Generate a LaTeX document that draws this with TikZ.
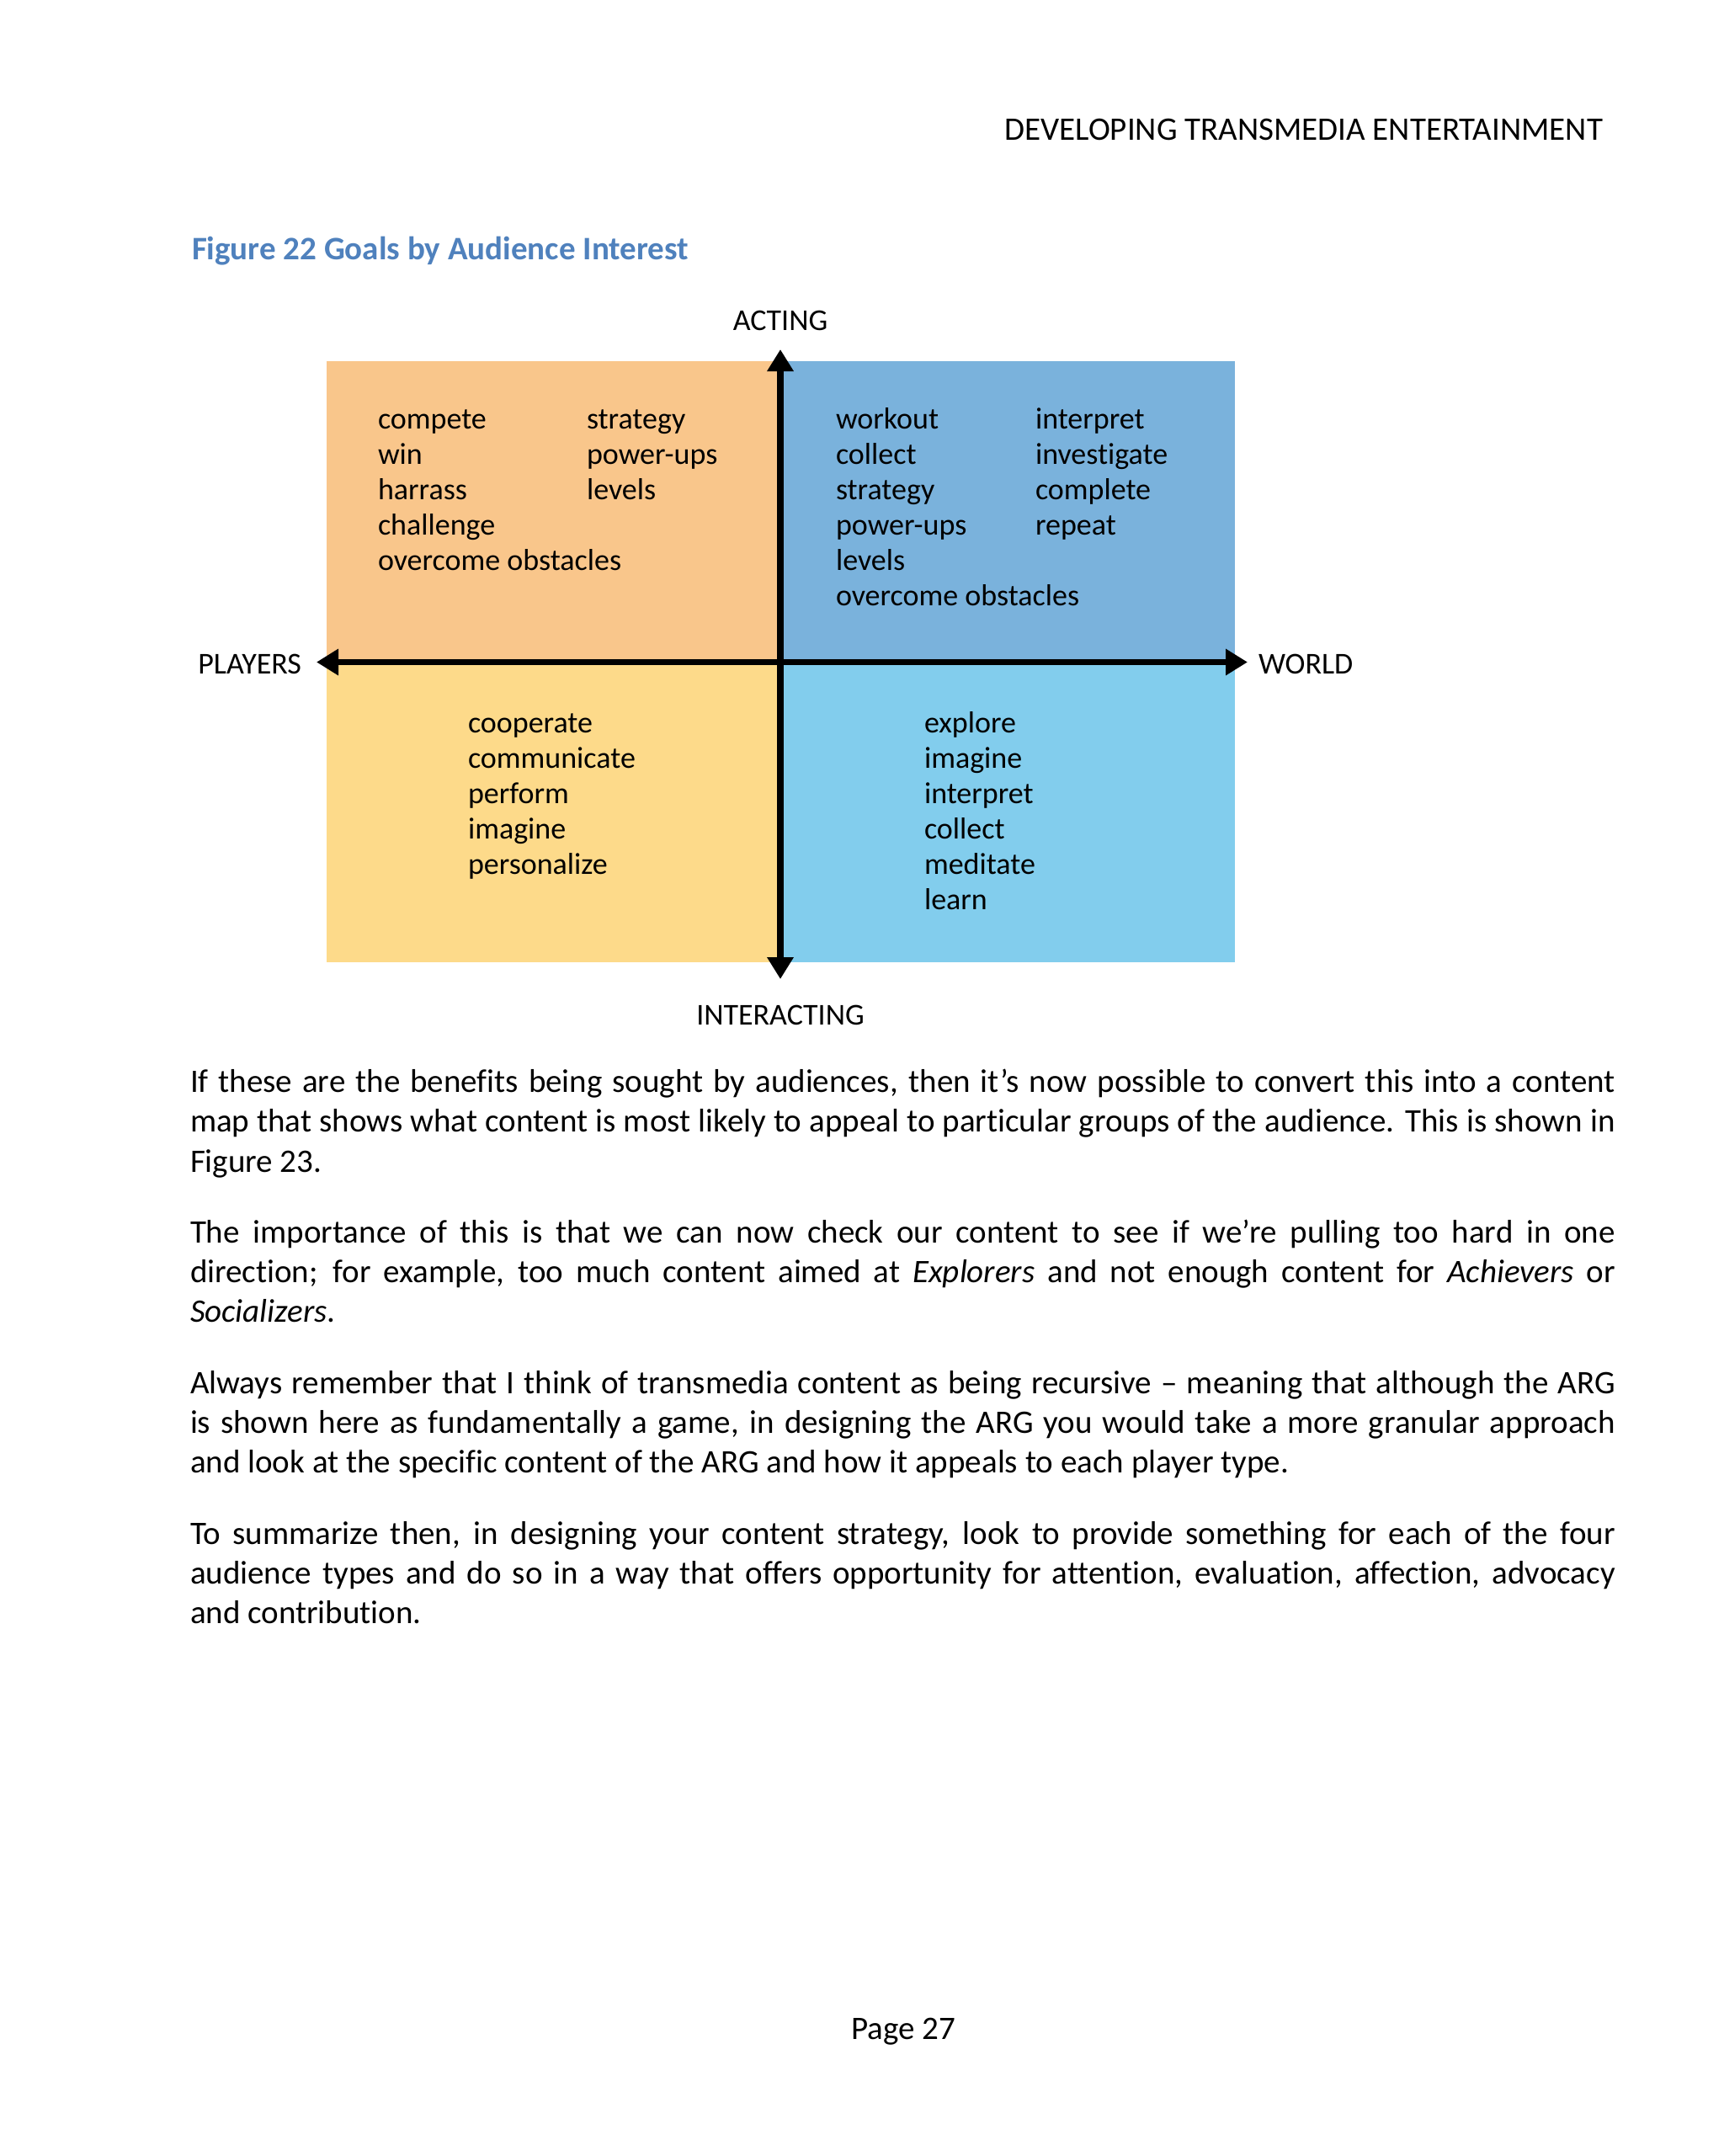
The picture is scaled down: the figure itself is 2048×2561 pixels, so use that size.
\documentclass[tikz,border=0pt]{standalone}
\usepackage{fontspec}
\setmainfont{Carlito}[Ligatures={NoCommon}]
\usetikzlibrary{arrows.meta}
\definecolor{qorange}{HTML}{F9C68B}
\definecolor{qblue}{HTML}{7AB2DC}
\definecolor{qyellow}{HTML}{FDDA8A}
\definecolor{qlight}{HTML}{82CDED}
\definecolor{titleblue}{HTML}{4F81BD}
\begin{document}
\begin{tikzpicture}[x=0.3pt,y=-0.3pt,
  every node/.style={inner sep=0pt,outer sep=0pt},
  bodyfont/.style={font=\fontsize{11.7pt}{14.1pt}\selectfont},
  lbl/.style={font=\fontsize{10.8pt}{12.6pt}\selectfont,anchor=base west},
  axislbl/.style={font=\fontsize{10.8pt}{12.6pt}\selectfont},
  axis/.style={line width=2.3pt,{Triangle[width=9pt,length=7.8pt]}-{Triangle[width=9pt,length=7.8pt]}},
  bline/.style={bodyfont,anchor=base west}]
\fill[white] (0,0) rectangle (2048,2561);
\useasboundingbox (0,0) rectangle (2048,2561);
% header and title
\node[bodyfont,anchor=base east] (header) at (1904,166) {DEVELOPING TRANSMEDIA ENTERTAINMENT};
\node[bodyfont,anchor=base west,text=titleblue,font=\fontsize{11.7pt}{14.1pt}\selectfont\bfseries] (title) at (228,308.5) {Figure 22 Goals by Audience Interest};
% quadrants
\fill[qorange] (388,429) rectangle (927,786.5);
\fill[qblue] (927,429) rectangle (1467,786.5);
\fill[qyellow] (388,786.5) rectangle (927,1143);
\fill[qlight] (927,786.5) rectangle (1467,1143);
% axes
\coordinate (top) at (927,415);
\coordinate (bottom) at (927,1163);
\coordinate (left) at (376,786.5);
\coordinate (right) at (1482,786.5);
\draw[axis] (left) -- (right);
\draw[axis] (bottom) -- (top);
% axis labels
\node[axislbl,anchor=base] (acting) at (927,392) {ACTING};
\node[axislbl,anchor=base] (interacting) at (927,1217) {INTERACTING};
\node[axislbl,anchor=base east] (players) at (358,800) {PLAYERS};
\node[axislbl,anchor=base west] (world) at (1495,800) {WORLD};
% quadrant words
\foreach \w [count=\i] in {compete,win,harrass,challenge,overcome obstacles}
  \node[lbl] (tla\i) at (449,{509+42*(\i-1)}) {\w};
\foreach \w [count=\i] in {strategy,power-ups,levels}
  \node[lbl] (tlb\i) at (697,{509+42*(\i-1)}) {\w};
\foreach \w [count=\i] in {workout,collect,strategy,power-ups,levels,overcome obstacles}
  \node[lbl] (tra\i) at (993,{509+42*(\i-1)}) {\w};
\foreach \w [count=\i] in {interpret,investigate,complete,repeat}
  \node[lbl] (trb\i) at (1230,{509+42*(\i-1)}) {\w};
\foreach \w [count=\i] in {cooperate,communicate,perform,imagine,personalize}
  \node[lbl] (bl\i) at (556,{870+42*(\i-1)}) {\w};
\foreach \w [count=\i] in {explore,imagine,interpret,collect,meditate,learn}
  \node[lbl] (br\i) at (1098,{870+42*(\i-1)}) {\w};
% body text
\def\bw{507.9pt}
\node[bline] (p1a) at (226,1297.6) {\makebox[\bw][s]{If these are the benefits being sought by audiences, then it’s now possible to convert this into a content}};
\node[bline] (p1b) at (226,1344.8) {\makebox[\bw][s]{map that shows what content is most likely to appeal to particular groups of the audience. This is shown in}};
\node[bline] (p1c) at (226,1392.0) {Figure 23.};
\node[bline] (p2a) at (226,1476.5) {\makebox[\bw][s]{The importance of this is that we can now check our content to see if we’re pulling too hard in one}};
\node[bline] (p2b) at (226,1523.7) {\makebox[\bw][s]{direction; for example, too much content aimed at \textit{Explorers} and not enough content for \textit{Achievers} or}};
\node[bline] (p2c) at (226,1570.9) {\textit{Socializers}.};
\node[bline] (p3a) at (226,1655.4) {\makebox[\bw][s]{Always remember that I think of transmedia content as being recursive – meaning that although the ARG}};
\node[bline] (p3b) at (226,1702.6) {\makebox[\bw][s]{is shown here as fundamentally a game, in designing the ARG you would take a more granular approach}};
\node[bline] (p3c) at (226,1749.8) {and look at the specific content of the ARG and how it appeals to each player type.};
\node[bline] (p4a) at (226,1834.3) {\makebox[\bw][s]{To summarize then, in designing your content strategy, look to provide something for each of the four}};
\node[bline] (p4b) at (226,1881.5) {\makebox[\bw][s]{audience types and do so in a way that offers opportunity for attention, evaluation, affection, advocacy}};
\node[bline] (p4c) at (226,1928.7) {and contribution.};
% page number
\node[bodyfont,anchor=base] (page) at (1073,2422.5) {Page 27};
\end{tikzpicture}
\end{document}
